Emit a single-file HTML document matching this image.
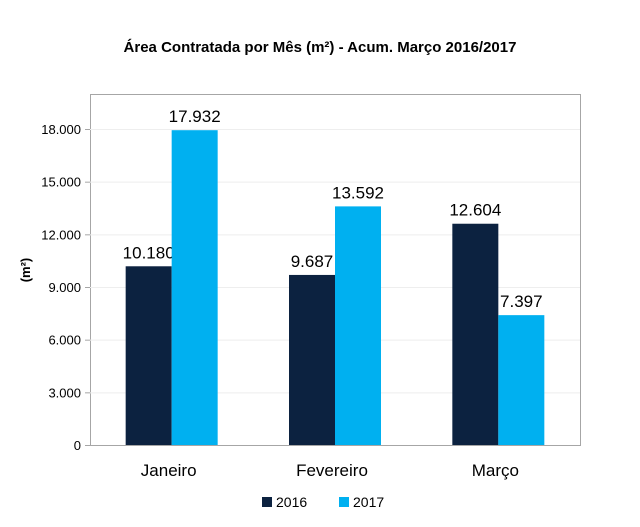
<!DOCTYPE html>
<html><head><meta charset="utf-8"><style>
body{margin:0;background:#fff;width:640px;height:522px;overflow:hidden}
svg{font-family:"Liberation Sans",sans-serif}
</style></head><body>
<svg id="c" width="640" height="522">
<text x="320" y="52" text-anchor="middle" font-size="15" font-weight="bold">Área Contratada por Mês (m²) - Acum. Março 2016/2017</text>
<rect x="90.5" y="94.5" width="490" height="351" fill="none" stroke="#a6a6a6"/>
<text x="30" y="270" text-anchor="middle" font-size="13" font-weight="bold" transform="rotate(-90 30 270)">(m²)</text>
<g id="legend">
<rect x="262" y="497" width="10" height="10" fill="#0c2240"/>
<text x="276" y="507" font-size="14">2016</text>
<rect x="339" y="497" width="10" height="10" fill="#00b0f0"/>
<text x="353" y="507" font-size="14">2017</text>
</g>
</svg>
<script>
const categories=["Janeiro","Fevereiro","Março"];
const series2016=[10180,9687,12604];
const series2017=[17932,13592,7397];
const yTicks=[0,3000,6000,9000,12000,15000,18000];
const svg=document.getElementById('c');
const NS="http://www.w3.org/2000/svg";
const x0=90,x1=580,y0=445,yTop=129;
const y=v=>y0-(v/18000)*(y0-yTop);
const band=(x1-x0)/categories.length;
const fmt=v=>v.toLocaleString('de-DE');
function mk(t,a){const e=document.createElementNS(NS,t);for(const k in a)e.setAttribute(k,a[k]);svg.appendChild(e);return e;}
yTicks.forEach((t,i)=>{
  if(t>0){const g=mk('line',{x1:x0,x2:x1,y1:y(t)+0.5,y2:y(t)+0.5,stroke:'#eeeeee'});
  
  }
  const tk=mk('line',{x1:x0-5,x2:x0,y1:y(t)+0.5,y2:y(t)+0.5,stroke:'#a6a6a6'});
  
  
  const l=mk('text',{x:x0-9,y:y(t)+5,'text-anchor':'end','font-size':'13'});
  l.textContent=fmt(t);
  
  
});
const bw=46;
categories.forEach((c,i)=>{
  const cx=x0+band*(i+0.5);
  [[series2016,'#0c2240',cx-bw,'2016'],[series2017,'#00b0f0',cx,'2017']].forEach(([s,col,bx,nm])=>{
    const v=s[i];
    const r=mk('rect',{x:bx,y:y(v),width:bw,height:y0-y(v),fill:col});
    
    
    const t=mk('text',{x:bx+bw/2,y:y(v)-8,'text-anchor':'middle','font-size':'17'});
    t.textContent=fmt(v);
    
    
  });
  const cl=mk('text',{x:cx-3,y:476,'text-anchor':'middle','font-size':'17'});
  cl.textContent=c;
  
  
});
</script>
</body></html>
